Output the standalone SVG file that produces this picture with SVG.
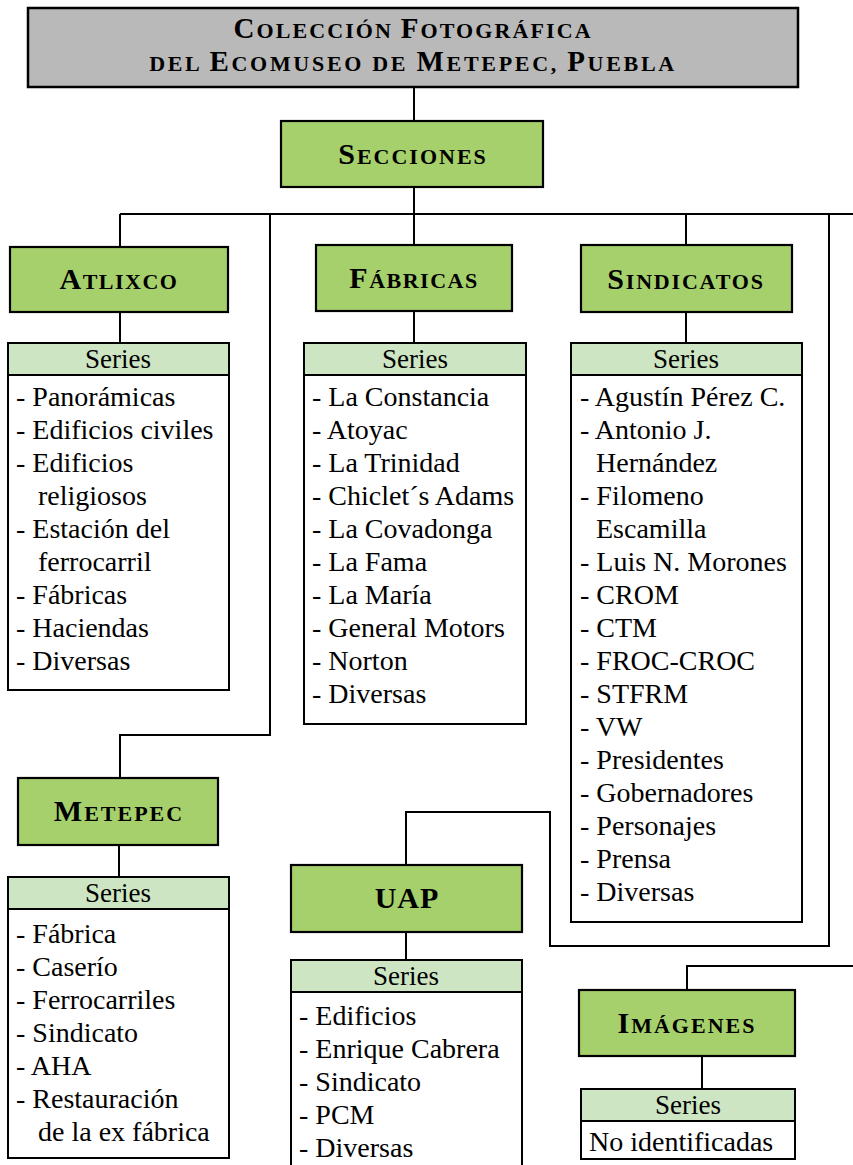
<svg xmlns="http://www.w3.org/2000/svg" width="853" height="1165" viewBox="0 0 853 1165">
<style>
.bg{fill:#ffffff}
.title{fill:#b9b9b9;stroke:#000;stroke-width:2.5}
.node{fill:#a6d06b;stroke:#000;stroke-width:2.2}
.hdr{fill:#cde5c3;stroke:#000;stroke-width:2}
.box{fill:#fff;stroke:#000;stroke-width:2}
.conn{fill:none;stroke:#000;stroke-width:2}
.lbl{font-weight:bold;fill:#000;text-anchor:middle}
.big{font-size:30px}
.sm{font-size:22px}
.tbig{font-size:29px}
.tsm{font-size:22px}
.it{font-size:28px;fill:#000}
.ser{font-size:27px;fill:#000;text-anchor:middle}
</style>
<rect class="bg" x="0" y="0" width="853" height="1165"/>

<g id="connectors">
  <path class="conn" d="M414 87 V121"/>
  <path class="conn" d="M414 187 V245"/>
  <path class="conn" d="M120 214 H853"/>
  <path class="conn" d="M120 214 V247"/>
  <path class="conn" d="M686 214 V245"/>
  <path class="conn" d="M270 214 V735 H120 V778"/>
  <path class="conn" d="M829 214 V946 H550 V812 H406 V865"/>
  <path class="conn" d="M853 966 H687 V990"/>
  <path class="conn" d="M120 312 V343"/>
  <path class="conn" d="M414 311 V343"/>
  <path class="conn" d="M686 312 V343"/>
  <path class="conn" d="M119 845 V877"/>
  <path class="conn" d="M406 932 V960"/>
  <path class="conn" d="M702 1056 V1089"/>
</g>

<g font-family="Liberation Serif">
<g id="titulo">
  <rect class="title" x="28" y="8" width="770" height="79"/>
  <text class="lbl" x="413" y="38" letter-spacing="2.1"><tspan class="tbig">C</tspan><tspan class="tsm">OLECCIÓN </tspan><tspan class="tbig">F</tspan><tspan class="tsm">OTOGRÁFICA</tspan></text>
  <text class="lbl" x="413" y="71" letter-spacing="2.7"><tspan class="tsm">DEL </tspan><tspan class="tbig">E</tspan><tspan class="tsm">COMUSEO DE </tspan><tspan class="tbig">M</tspan><tspan class="tsm">ETEPEC, </tspan><tspan class="tbig">P</tspan><tspan class="tsm">UEBLA</tspan></text>
</g>

<g id="secciones">
  <rect class="node" x="281" y="121" width="262" height="66"/>
  <text class="lbl" x="413" y="164" letter-spacing="2"><tspan class="big">S</tspan><tspan class="sm">ECCIONES</tspan></text>
</g>

<g id="atlixco">
  <rect class="node" x="10" y="247" width="218" height="65"/>
  <text class="lbl" x="119" y="289" letter-spacing="1.5"><tspan class="big">A</tspan><tspan class="sm">TLIXCO</tspan></text>
  <rect class="hdr" x="8" y="343" width="221" height="32"/>
  <text class="ser" x="118" y="368">Series</text>
  <rect class="box" x="8" y="375" width="221" height="315"/>
  <text class="it" x="16" y="406">- Panorámicas</text>
  <text class="it" x="16" y="439">- Edificios civiles</text>
  <text class="it" x="16" y="472">- Edificios</text>
  <text class="it" x="38" y="505">religiosos</text>
  <text class="it" x="16" y="538">- Estación del</text>
  <text class="it" x="38" y="571">ferrocarril</text>
  <text class="it" x="16" y="604">- Fábricas</text>
  <text class="it" x="16" y="637">- Haciendas</text>
  <text class="it" x="16" y="670">- Diversas</text>
</g>

<g id="fabricas">
  <rect class="node" x="316" y="245" width="196" height="66"/>
  <text class="lbl" x="414" y="288" letter-spacing="1.5"><tspan class="big">F</tspan><tspan class="sm">ÁBRICAS</tspan></text>
  <rect class="hdr" x="304" y="343" width="222" height="32"/>
  <text class="ser" x="415" y="368">Series</text>
  <rect class="box" x="304" y="375" width="222" height="349"/>
  <text class="it" x="312" y="406">- La Constancia</text>
  <text class="it" x="312" y="439">- Atoyac</text>
  <text class="it" x="312" y="472">- La Trinidad</text>
  <text class="it" x="312" y="505">- Chiclet´s Adams</text>
  <text class="it" x="312" y="538">- La Covadonga</text>
  <text class="it" x="312" y="571">- La Fama</text>
  <text class="it" x="312" y="604">- La María</text>
  <text class="it" x="312" y="637">- General Motors</text>
  <text class="it" x="312" y="670">- Norton</text>
  <text class="it" x="312" y="703">- Diversas</text>
</g>

<g id="sindicatos">
  <rect class="node" x="581" y="245" width="211" height="67"/>
  <text class="lbl" x="686" y="289" letter-spacing="1.8"><tspan class="big">S</tspan><tspan class="sm">INDICATOS</tspan></text>
  <rect class="hdr" x="571" y="343" width="231" height="32"/>
  <text class="ser" x="686" y="368">Series</text>
  <rect class="box" x="571" y="375" width="231" height="547"/>
  <text class="it" x="580" y="406">- Agustín Pérez C.</text>
  <text class="it" x="580" y="439">- Antonio J.</text>
  <text class="it" x="596" y="472">Hernández</text>
  <text class="it" x="580" y="505">- Filomeno</text>
  <text class="it" x="596" y="538">Escamilla</text>
  <text class="it" x="580" y="571">- Luis N. Morones</text>
  <text class="it" x="580" y="604">- CROM</text>
  <text class="it" x="580" y="637">- CTM</text>
  <text class="it" x="580" y="670">- FROC-CROC</text>
  <text class="it" x="580" y="703">- STFRM</text>
  <text class="it" x="580" y="736">- VW</text>
  <text class="it" x="580" y="769">- Presidentes</text>
  <text class="it" x="580" y="802">- Gobernadores</text>
  <text class="it" x="580" y="835">- Personajes</text>
  <text class="it" x="580" y="868">- Prensa</text>
  <text class="it" x="580" y="901">- Diversas</text>
</g>

<g id="metepec">
  <rect class="node" x="18" y="778" width="200" height="67"/>
  <text class="lbl" x="119" y="821" letter-spacing="2"><tspan class="big">M</tspan><tspan class="sm">ETEPEC</tspan></text>
  <rect class="hdr" x="8" y="877" width="221" height="32"/>
  <text class="ser" x="118" y="902">Series</text>
  <rect class="box" x="8" y="909" width="221" height="249"/>
  <text class="it" x="16" y="943">- Fábrica</text>
  <text class="it" x="16" y="976">- Caserío</text>
  <text class="it" x="16" y="1009">- Ferrocarriles</text>
  <text class="it" x="16" y="1042">- Sindicato</text>
  <text class="it" x="16" y="1075">- AHA</text>
  <text class="it" x="16" y="1108">- Restauración</text>
  <text class="it" x="38" y="1141">de la ex fábrica</text>
</g>

<g id="uap">
  <rect class="node" x="291" y="865" width="231" height="67"/>
  <text class="lbl big" x="407" y="908" letter-spacing="1">UAP</text>
  <rect class="hdr" x="291" y="960" width="231" height="32"/>
  <text class="ser" x="406" y="985">Series</text>
  <path class="conn" d="M291 992 V1166 M522 992 V1166"/>
  <text class="it" x="299" y="1025">- Edificios</text>
  <text class="it" x="299" y="1058">- Enrique Cabrera</text>
  <text class="it" x="299" y="1091">- Sindicato</text>
  <text class="it" x="299" y="1124">- PCM</text>
  <text class="it" x="299" y="1157">- Diversas</text>
</g>

<g id="imagenes">
  <rect class="node" x="579" y="990" width="216" height="66"/>
  <text class="lbl" x="687" y="1033" letter-spacing="2"><tspan class="big">I</tspan><tspan class="sm">MÁGENES</tspan></text>
  <rect class="hdr" x="581" y="1089" width="214" height="32"/>
  <text class="ser" x="688" y="1114">Series</text>
  <rect class="box" x="581" y="1121" width="214" height="38"/>
  <text class="it" x="589" y="1151">No identificadas</text>
</g>
</g>
</svg>
